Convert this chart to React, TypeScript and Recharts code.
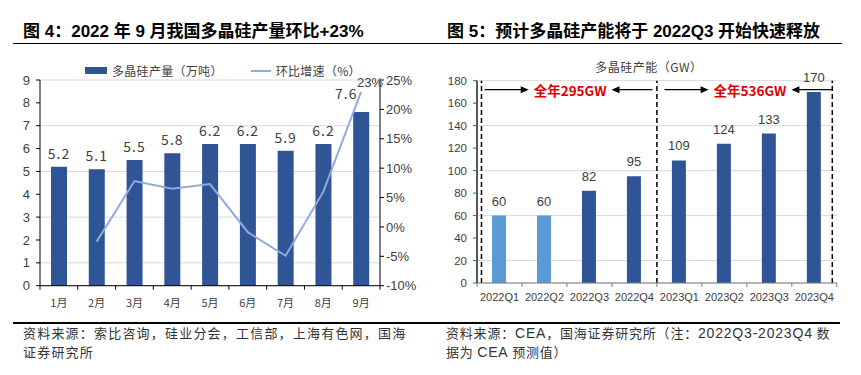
import React from 'react';
import {
  ComposedChart,
  Bar,
  Line,
  Cell,
  XAxis,
  YAxis,
  CartesianGrid,
  Legend,
  LabelList,
  ReferenceLine,
  ReferenceDot,
} from 'recharts';

// 图 4：月度多晶硅产量与环比
const months = ['1月', '2月', '3月', '4月', '5月', '6月', '7月', '8月', '9月'];
const outputWanTon = [5.2, 5.1, 5.5, 5.8, 6.2, 6.2, 5.9, 6.2, 7.6];
const momGrowthPct = [null, -2.5, 7.8, 6.5, 7.3, -0.9, -4.9, 6.0, 23];
const outputTicks = [0, 1, 2, 3, 4, 5, 6, 7, 8, 9];
const growthTicks = [-10, -5, 0, 5, 10, 15, 20, 25];

// 图 5：季度多晶硅产能
const quarters = ['2022Q1', '2022Q2', '2022Q3', '2022Q4', '2023Q1', '2023Q2', '2023Q3', '2023Q4'];
const capacityGW = [60, 60, 82, 95, 109, 124, 133, 170];
const firstForecastQuarter = '2022Q3';
const capacityTicks = [0, 20, 40, 60, 80, 100, 120, 140, 160, 180];
const yearTotals = [
  { label: '全年295GW', fromQuarter: 0, toQuarter: 4 },
  { label: '全年536GW', fromQuarter: 4, toQuarter: 8 },
];

const outputData = months.map((month, i) => ({
  month,
  output: outputWanTon[i],
  growth: momGrowthPct[i],
}));

const forecastIndex = quarters.indexOf(firstForecastQuarter);
const capacityData = quarters.map((quarter, i) => ({
  quarter,
  slot: i + 0.5, // band centre on a 0..n numeric axis, used for the annotations
  capacity: capacityGW[i],
  forecast: i >= forecastIndex,
}));

const DARK_BLUE = '#2F5597';
const LIGHT_BLUE = '#5B9BD5';
const LINE_BLUE = '#8FAADC';
const GRID = '#D9D9D9';
const TEXT = '#404040';
const SANS = "'Liberation Sans', Arial, 'Noto Sans CJK SC', sans-serif";
const CJK = "'Noto Sans CJK SC', 'Liberation Sans', sans-serif";

// category tick: label at band centre, tick mark on band boundaries
function BandTick(props: any) {
  const { x, y, payload, index, visibleTicksCount, labelDy, fontSize, fontFamily, markColor } = props;
  const half = payload?.offset ?? 0;
  const isLast = index === visibleTicksCount - 1;
  return (
    <g>
      <line x1={x - half} x2={x - half} y1={y} y2={y + 4} stroke={markColor} />
      {isLast && <line x1={x + half} x2={x + half} y1={y} y2={y + 4} stroke={markColor} />}
      <text
        x={x}
        y={y + labelDy}
        textAnchor="middle"
        dominantBaseline="central"
        fontSize={fontSize}
        fontFamily={fontFamily}
        fill={TEXT}
      >
        {payload.value}
      </text>
    </g>
  );
}

function OutputLabel(props: any) {
  const { x, y, width, value, index } = props;
  const last = index === outputWanTon.length - 1;
  return (
    <text
      x={x + width / 2 + (last ? -15 : 0)}
      y={y - (last ? 19 : 14)}
      textAnchor="middle"
      dominantBaseline="central"
      fontSize={14}
      fontFamily={CJK}
      letterSpacing={1}
      fill={TEXT}
    >
      {Number(value).toFixed(1)}
    </text>
  );
}

function GrowthLabel(props: any) {
  const { x, y, value, index } = props;
  if (index !== momGrowthPct.length - 1 || value == null) return null;
  return (
    <text x={x + 9} y={y - 9} textAnchor="middle" dominantBaseline="central" fontSize={13} fontFamily={SANS} fill={TEXT}>
      {`${value}%`}
    </text>
  );
}

function OutputLegend() {
  const item = { display: 'flex', alignItems: 'center' } as const;
  return (
    <div style={{ display: 'flex', alignItems: 'center', fontFamily: CJK, fontSize: 12, color: TEXT, letterSpacing: 0.3 }}>
      <div style={item}>
        <span style={{ width: 22, height: 7, background: DARK_BLUE, marginRight: 5 }} />
        <span>多晶硅产量（万吨）</span>
      </div>
      <div style={{ ...item, marginLeft: 28 }}>
        <span style={{ width: 20, height: 2, background: LINE_BLUE, marginRight: 5 }} />
        <span>环比增速（%）</span>
      </div>
    </div>
  );
}

function OutputChart() {
  return (
    <ComposedChart width={430} height={320} data={outputData} margin={{ top: 80, right: 0, bottom: 9.3, left: 0 }}>
      <CartesianGrid vertical={false} stroke={GRID} />
      <XAxis
        dataKey="month"
        interval={0}
        height={25}
        tickSize={0}
        tickMargin={0}
        tickLine={false}
        axisLine={{ stroke: '#000' }}
        tick={(p: any) => <BandTick {...p} labelDy={16} fontSize={11} fontFamily={CJK} markColor="#000" />}
      />
      <YAxis
        domain={[0, 9]}
        ticks={outputTicks}
        width={40}
        tickSize={4}
        tickMargin={6}
        axisLine={{ stroke: '#000' }}
        tickLine={{ stroke: '#000' }}
        tick={{ fontSize: 13, fontFamily: SANS, fill: TEXT }}
      />
      <YAxis
        yAxisId="pct"
        orientation="right"
        domain={[-10, 25]}
        ticks={growthTicks}
        width={50}
        tickSize={4}
        tickMargin={2}
        axisLine={{ stroke: '#000' }}
        tickLine={{ stroke: '#000' }}
        tickFormatter={(v: number) => `${v}%`}
        tick={{ fontSize: 13, fontFamily: SANS, fill: TEXT }}
      />
      <Legend
        verticalAlign="middle"
        align="center"
        wrapperStyle={{ top: 62, left: 85, width: 'auto' }}
        content={() => <OutputLegend />}
      />
      <Bar dataKey="output" name="多晶硅产量（万吨）" fill={DARK_BLUE} barSize={16} isAnimationActive={false}>
        <LabelList dataKey="output" content={(p: any) => <OutputLabel {...p} />} />
      </Bar>
      <Line
        yAxisId="pct"
        dataKey="growth"
        name="环比增速（%）"
        stroke={LINE_BLUE}
        strokeWidth={2}
        dot={false}
        isAnimationActive={false}
      >
        <LabelList dataKey="growth" content={(p: any) => <GrowthLabel {...p} />} />
      </Line>
    </ComposedChart>
  );
}

function Arrow(props: any) {
  const { x1, y1, x2, y2 } = props;
  const dir = Math.sign(x2 - x1) || 1;
  return (
    <g>
      <line x1={x1} y1={y1} x2={x2 - dir * 6} y2={y2} stroke="#000" strokeWidth={1.2} />
      <polygon points={`${x2},${y2} ${x2 - dir * 8},${y2 - 3.5} ${x2 - dir * 8},${y2 + 3.5}`} fill="#000" />
    </g>
  );
}

function CapacityChart() {
  const arrowY = 172;
  return (
    <ComposedChart width={431} height={320} data={capacityData} margin={{ top: 80.7, right: 24.2, bottom: 12, left: 0 }}>
      <CartesianGrid vertical={false} stroke={GRID} />
      <XAxis
        dataKey="quarter"
        interval={0}
        height={25}
        tickSize={0}
        tickMargin={0}
        tickLine={false}
        axisLine={{ stroke: '#7F7F7F' }}
        tick={(p: any) => <BandTick {...p} labelDy={13.5} fontSize={11} fontFamily={SANS} markColor="#7F7F7F" />}
      />
      <XAxis
        xAxisId="pos"
        dataKey="slot"
        type="number"
        domain={[0, quarters.length]}
        allowDataOverflow
        hide
      />
      <YAxis
        domain={[0, 180]}
        ticks={capacityTicks}
        width={47}
        tickSize={4}
        tickMargin={6}
        axisLine={{ stroke: '#595959', strokeWidth: 2 }}
        tickLine={{ stroke: '#595959' }}
        tick={{ fontSize: 11.5, fontFamily: SANS, fill: TEXT }}
      />
      <Legend
        verticalAlign="middle"
        align="center"
        wrapperStyle={{ top: 58, left: 0, width: 438 }}
        content={() => (
          <div style={{ textAlign: 'center', fontFamily: CJK, fontSize: 12, color: TEXT, letterSpacing: 0.5 }}>
            多晶硅产能（GW）
          </div>
        )}
      />
      <Bar dataKey="capacity" name="多晶硅产能（GW）" barSize={14} isAnimationActive={false}>
        {capacityData.map((d) => (
          <Cell key={d.quarter} fill={d.forecast ? DARK_BLUE : LIGHT_BLUE} />
        ))}
        <LabelList dataKey="capacity" position="top" offset={10} fontSize={13} fontFamily={SANS} fill={TEXT} />
      </Bar>
      {[0.1, 4, quarters.length - 0.1].map((x) => (
        <ReferenceLine key={x} xAxisId="pos" x={x} stroke="#000" strokeWidth={1.5} strokeDasharray="5 3" />
      ))}
      {yearTotals.map((t) => {
        const centre = (t.fromQuarter + t.toQuarter) / 2 + 0.07;
        return (
          <React.Fragment key={t.label}>
            <ReferenceLine
              xAxisId="pos"
              segment={[{ x: t.fromQuarter + 0.17, y: arrowY }, { x: centre - 0.92, y: arrowY }]}
              shape={(p: any) => <Arrow {...p} />}
            />
            <ReferenceLine
              xAxisId="pos"
              segment={[{ x: t.toQuarter - 0.1, y: arrowY }, { x: centre + 0.92, y: arrowY }]}
              shape={(p: any) => <Arrow {...p} />}
            />
            <ReferenceDot
              xAxisId="pos"
              x={centre}
              y={arrowY}
              r={0}
              shape={(p: any) => (
                <text
                  x={p.cx}
                  y={p.cy}
                  textAnchor="middle"
                  dominantBaseline="central"
                  fontSize={13.5}
                  fontWeight="bold"
                  fontFamily={CJK}
                  fill="#E00000"
                >
                  {t.label}
                </text>
              )}
            />
          </React.Fragment>
        );
      })}
    </ComposedChart>
  );
}

export default function App() {
  const title = { position: 'absolute', top: 22, fontSize: 17, fontWeight: 'bold', fontFamily: SANS, color: '#000', whiteSpace: 'nowrap', lineHeight: '19px' } as const;
  const note = { position: 'absolute', top: 324, fontSize: 13, fontFamily: CJK, color: '#333', lineHeight: '18.7px', whiteSpace: 'nowrap', letterSpacing: 1.2 } as const;
  return (
    <div style={{ position: 'absolute', left: 0, top: 0, width: 861, height: 375, background: '#fff', overflow: 'hidden' }}>
      <div style={{ ...title, left: 23 }}>图 4：2022 年 9 月我国多晶硅产量环比+23%</div>
      <div style={{ ...title, left: 447 }}>图 5：预计多晶硅产能将于 2022Q3 开始快速释放</div>
      <div style={{ position: 'absolute', left: 13, top: 42.5, width: 829, height: 1.5, background: '#000' }} />
      <div style={{ position: 'absolute', left: 0, top: 0 }}>
        <OutputChart />
      </div>
      <div style={{ position: 'absolute', left: 430, top: 0 }}>
        <CapacityChart />
      </div>
      <div style={{ position: 'absolute', left: 13, top: 322, width: 827, height: 1.5, background: '#000' }} />
      <div style={{ ...note, left: 23 }}>
        <div>资料来源：索比咨询，硅业分会，工信部，上海有色网，国海</div>
        <div>证券研究所</div>
      </div>
      <div style={{ ...note, left: 446, letterSpacing: 0.8 }}>
        <div>
          资料来源：<span style={{ fontFamily: SANS, fontSize: 14 }}>CEA</span>，国海证券研究所（注：
          <span style={{ fontFamily: SANS, fontSize: 14 }}>2022Q3-2023Q4</span> 数
        </div>
        <div>
          据为 <span style={{ fontFamily: SANS, fontSize: 14 }}>CEA</span> 预测值）
        </div>
      </div>
    </div>
  );
}
